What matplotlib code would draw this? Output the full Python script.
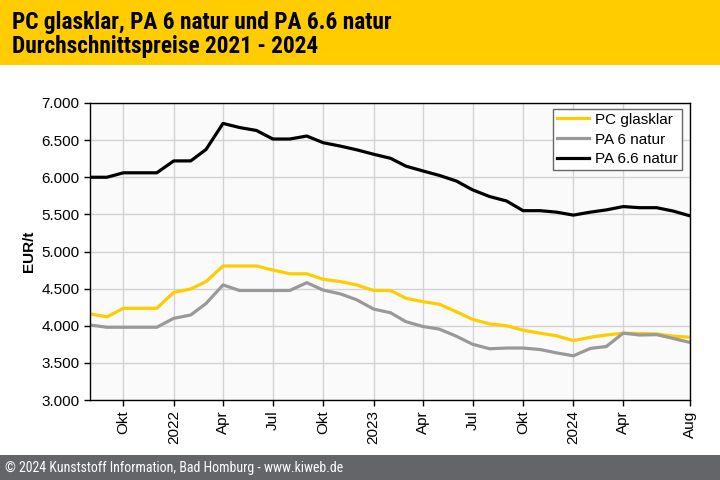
import matplotlib
matplotlib.use("Agg")
import matplotlib.pyplot as plt
import matplotlib.dates as mdates
import pandas as pd
from matplotlib import font_manager
from matplotlib.ticker import FuncFormatter

# Monatliche Durchschnittspreise in EUR/t, Aug 2021 bis Aug 2024
months = pd.date_range("2021-08-01", "2024-08-01", freq="MS")

pc_glasklar = [4160, 4120, 4235, 4235, 4235, 4450, 4495, 4595, 4805, 4805,
               4805, 4750, 4700, 4700, 4625, 4595, 4550, 4475, 4475, 4370,
               4325, 4290, 4190, 4085, 4025, 4000, 3940, 3900, 3865, 3800,
               3845, 3875, 3900, 3895, 3890, 3860, 3845]
pa6_natur = [4010, 3980, 3980, 3980, 3980, 4100, 4145, 4300, 4550, 4475,
             4475, 4475, 4475, 4580, 4480, 4430, 4350, 4225, 4175, 4055,
             3990, 3955, 3860, 3750, 3690, 3700, 3700, 3680, 3635, 3595,
             3695, 3720, 3900, 3875, 3880, 3830, 3775]
pa66_natur = [6000, 6000, 6060, 6060, 6060, 6220, 6220, 6375, 6725, 6670,
              6630, 6515, 6515, 6555, 6465, 6420, 6370, 6310, 6255, 6150,
              6085, 6025, 5950, 5830, 5740, 5680, 5550, 5550, 5530, 5490,
              5530, 5560, 5605, 5590, 5590, 5545, 5480]

series_names = ["PC glasklar", "PA 6 natur", "PA 6.6 natur"]
series_colors = ["#FFCC00", "#999999", "#000000"]

tick_dates = ["2021-10-01", "2022-01-01", "2022-04-01", "2022-07-01", "2022-10-01",
              "2023-01-01", "2023-04-01", "2023-07-01", "2023-10-01", "2024-01-01",
              "2024-04-01", "2024-08-01"]
tick_labels = ["Okt", "2022", "Apr", "Jul", "Okt", "2023", "Apr", "Jul", "Okt",
               "2024", "Apr", "Aug"]

title = "PC glasklar, PA 6 natur und PA 6.6 natur\nDurchschnittspreise 2021 - 2024"
footer = "© 2024 Kunststoff Information, Bad Homburg - www.kiweb.de"

plt.rcParams["font.family"] = ["Liberation Sans", "DejaVu Sans"]

# schmale Schrift suchen, falls vorhanden
installed = {f.name: f.stretch for f in font_manager.fontManager.ttflist}
narrow_name = None
for cand in ["Liberation Sans Narrow", "Arial Narrow", "Roboto Condensed",
             "DejaVu Sans Condensed", "Open Sans Condensed"]:
    if cand in installed:
        narrow_name = cand
        break
if narrow_name is None:
    for f in font_manager.fontManager.ttflist:
        if f.stretch in ("condensed", "semi-condensed", 375, 500, 625) and "Mono" not in f.name:
            narrow_name = f.name
            break

if narrow_name:
    title_kw = dict(family=[narrow_name, "Liberation Sans"], fontsize=16.8, fontstretch="condensed")
    footer_kw = dict(family=[narrow_name, "Liberation Sans"], fontsize=10, fontstretch="condensed")
else:
    title_kw = dict(family=["Liberation Sans"], fontsize=14.5)
    footer_kw = dict(family=["Liberation Sans"], fontsize=9)

fig = plt.figure(figsize=(7.2, 4.8), dpi=100, facecolor="white")

# Kopfband und Fußzeile
fig.patches.append(plt.Rectangle((0, 1 - 65 / 480), 1, 65 / 480, transform=fig.transFigure,
                                 facecolor="#FFCC00", edgecolor="none", zorder=0))
fig.patches.append(plt.Rectangle((0, 0), 1, 25 / 480, transform=fig.transFigure,
                                 facecolor="#646569", edgecolor="none", zorder=0))
fig.text(12 / 720, 1 - 11 / 480, title, ha="left", va="top", fontweight="bold",
         linespacing=1.05, color="black", **title_kw)
fig.text(5 / 720, 12 / 480, footer, ha="left", va="center", color="white", **footer_kw)

ax = fig.add_axes([90 / 720, 80 / 480, 600 / 720, 297 / 480])
ax.set_facecolor("#FAFAFA")

for vals, name, col in zip([pc_glasklar, pa6_natur, pa66_natur], series_names, series_colors):
    ax.plot(months, vals, color=col, linewidth=2.3, label=name, solid_joinstyle="round")

ax.set_xlim(months[0], months[-1])
ax.set_ylim(3000, 7000)
ax.set_yticks(range(3000, 7001, 500))
ax.yaxis.set_major_formatter(FuncFormatter(lambda v, p: f"{int(v):,}".replace(",", ".")))

ax.set_xticks([mdates.date2num(pd.Timestamp(d)) for d in tick_dates])
ax.set_xticklabels(tick_labels, rotation=90)

ax.grid(True, color="#D3D3D3", linewidth=1)
ax.set_axisbelow(True)
for s in ax.spines.values():
    s.set_color("black")
    s.set_linewidth(1)
ax.tick_params(axis="both", labelsize=11, color="black", length=4, width=1)
ax.set_ylabel("EUR/t", fontsize=11, fontweight="bold", labelpad=4)

leg = ax.legend(loc="upper right", bbox_to_anchor=((682 - 90) / 600, 1 - 6 / 297),
                borderaxespad=0, fontsize=11, frameon=True, fancybox=False,
                borderpad=0.25, handlelength=2.1, labelspacing=0.38,
                handletextpad=0.4)
leg.get_frame().set_edgecolor("#666666")
leg.get_frame().set_facecolor("white")
leg.get_frame().set_alpha(1)

fig.savefig("out.png", dpi=100, facecolor="white")
